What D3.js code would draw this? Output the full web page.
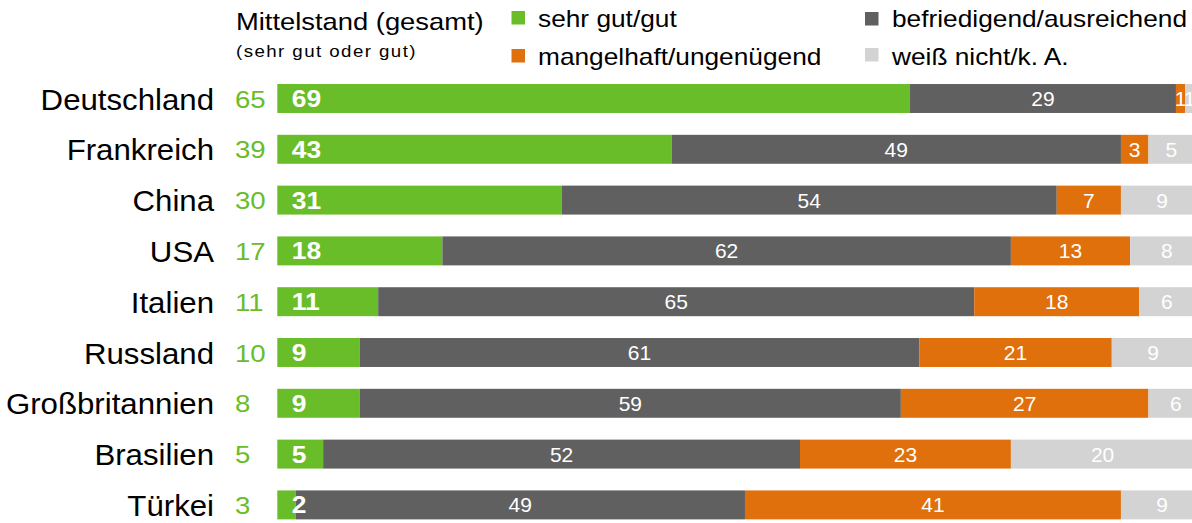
<!DOCTYPE html>
<html>
<head>
<meta charset="utf-8">
<script src="https://cdn.jsdelivr.net/npm/d3@7"></script>
<style>
  body { margin: 0; background: #fff; }
  svg { display: block; font-family: "Liberation Sans", Arial, sans-serif; }
</style>
</head>
<body>
<svg width="1192" height="523"></svg>
<script>
// data
var countries = ["Deutschland", "Frankreich", "China", "USA", "Italien", "Russland", "Großbritannien", "Brasilien", "Türkei"];
var mittelstand = [65, 39, 30, 17, 11, 10, 8, 5, 3];
var sehrGut = [69, 43, 31, 18, 11, 9, 9, 5, 2];
var befriedigend = [29, 49, 54, 62, 65, 61, 59, 52, 49];
var mangelhaft = [1, 3, 7, 13, 18, 21, 27, 23, 41];
var weissNicht = [1, 5, 9, 8, 6, 9, 6, 20, 9];
var seriesNames = ["sehr gut/gut", "befriedigend/ausreichend", "mangelhaft/ungenügend", "weiß nicht/k. A."];
var colors = ["#69bd28", "#606060", "#e0700b", "#d3d3d3"];

var svg = d3.select("svg");

var x = d3.scaleLinear().domain([0, 100]).range([277.3, 1194.3]);
var y = d3.scaleBand().domain(countries).range([73.1, 530.3]).paddingInner(0.43).paddingOuter(0.215);

var rows = countries.map(function(c, i) {
	return {country: c, mittel: mittelstand[i], v: [sehrGut[i], befriedigend[i], mangelhaft[i], weissNicht[i]]};
});

// stretch text a bit sideways like the original
function place(sel, px, py, sx) {
	sel.attr("transform", "translate(" + px + "," + py + ") scale(" + sx + ",1)");
}

var row = svg.selectAll("g.row")
	.data(rows)
	.enter()
	.append("g")
	.attr("class", "row");

row.each(function(d) {
	var g = d3.select(this);
	var top = y(d.country), h = y.bandwidth(), mid = top + h / 2;

	// segments first, labels on top
	var segs = [], start = 0;
	d.v.forEach(function(val, k) {
		segs.push({k: k, val: val, x0: start, x1: start + val});
		start += val;
	});

	segs.forEach(function(s) {
		g.append("rect")
			.attr("x", x(s.x0))
			.attr("y", top)
			.attr("width", x(s.x1) - x(s.x0))
			.attr("height", h)
			.attr("fill", colors[s.k]);
	});

	segs.forEach(function(s) {
		var t = g.append("text")
			.attr("fill", "#fff")
			.text(s.val);
		if (s.k === 0) {
			t.attr("font-weight", "bold").attr("font-size", 24);
			place(t, x(0) + 14.5, mid + 8.5, 1.1);
		} else {
			t.attr("text-anchor", "middle").attr("font-size", 20);
			place(t, x((s.x0 + s.x1) / 2), mid + 7.5, 1.05);
		}
	});

	var name = g.append("text")
		.attr("text-anchor", "end")
		.attr("font-size", 30)
		.attr("fill", "#000")
		.text(d.country);
	place(name, 214, mid + 11, 1.04);

	var m = g.append("text")
		.attr("font-size", 24)
		.attr("fill", colors[0])
		.text(d.mittel);
	place(m, 235, mid + 9, 1.15);
});

// header
var title = svg.append("text").attr("font-size", 24).attr("fill", "#000").text("Mittelstand (gesamt)");
place(title, 236, 30, 1.14);
var sub = svg.append("text").attr("font-size", 17).attr("letter-spacing", 1.3).attr("fill", "#000").text("(sehr gut oder gut)");
place(sub, 236, 57, 1.1);

// legend
var legendPos = [[511.5, 11, 538, 27], [865, 12, 892, 27], [511.5, 49, 538, 65], [865, 48, 892, 65]];
seriesNames.forEach(function(s, k) {
	var p = legendPos[k];
	svg.append("rect")
		.attr("x", p[0]).attr("y", p[1])
		.attr("width", 13.5).attr("height", 13.5)
		.attr("fill", colors[k]);
	var t = svg.append("text").attr("font-size", 24).attr("fill", "#000").text(s);
	place(t, p[2], p[3], 1.095);
});
</script>
</body>
</html>
